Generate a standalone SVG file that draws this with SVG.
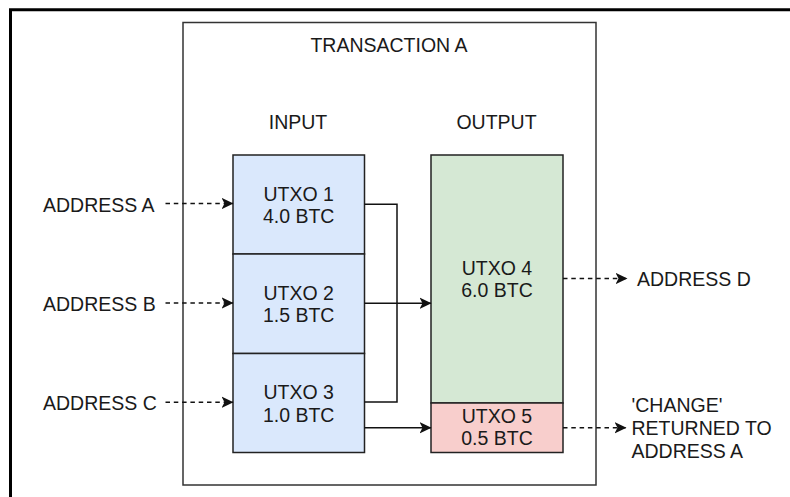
<svg xmlns="http://www.w3.org/2000/svg" width="790" height="497" viewBox="0 0 790 497">
  <style>
    text { font-family: "Liberation Sans", Arial, sans-serif; font-size: 19.5px; fill: #1a1a1a; }
    .c { text-anchor: middle; }
    .box { stroke: #222; stroke-width: 1.5; }
    .in { fill: #dae8fc; }
    .out { fill: #d5e8d4; }
    .chg { fill: #f8cecc; }
    .ln { fill: none; stroke: #111; stroke-width: 1.5; }
    .dash { stroke-dasharray: 4.5 3.8; }
  </style>
  <defs>
    <marker id="arr" viewBox="0 0 12 12" refX="11.5" refY="6" markerWidth="12" markerHeight="12" markerUnits="userSpaceOnUse" orient="auto">
      <path d="M0,0.3 L12,6 L0,11.7 L3,6 Z" fill="#111"/>
    </marker>
  </defs>
  <rect width="790" height="497" fill="#fff"/>
  <path id="frame" d="M10.5,497 V9.8 H790" fill="none" stroke="#000" stroke-width="3"/>

  <g id="transaction">
    <rect x="183" y="22.5" width="413" height="462.5" fill="#fff" stroke="#333" stroke-width="1.5"/>
    <text class="c" x="389" y="52">TRANSACTION A</text>
    <text class="c" x="298" y="129">INPUT</text>
    <text class="c" x="496.5" y="129">OUTPUT</text>
  </g>

  <g id="utxo1">
    <rect class="box in" x="233" y="155" width="131.5" height="99"/>
    <text class="c" x="298.7" y="200.7">UTXO 1</text>
    <text class="c" x="298.7" y="222.7">4.0 BTC</text>
  </g>
  <g id="utxo2">
    <rect class="box in" x="233" y="254" width="131.5" height="99.5"/>
    <text class="c" x="298.7" y="299.5">UTXO 2</text>
    <text class="c" x="298.7" y="321.7">1.5 BTC</text>
  </g>
  <g id="utxo3">
    <rect class="box in" x="233" y="353.5" width="131.5" height="99"/>
    <text class="c" x="298.7" y="398.5">UTXO 3</text>
    <text class="c" x="298.7" y="421.7">1.0 BTC</text>
  </g>
  <g id="utxo4">
    <rect class="box out" x="431" y="155" width="132" height="248"/>
    <text class="c" x="497" y="274.5">UTXO 4</text>
    <text class="c" x="497" y="296.7">6.0 BTC</text>
  </g>
  <g id="utxo5">
    <rect class="box chg" x="431" y="403" width="132" height="49.5"/>
    <text class="c" x="497" y="423.3">UTXO 5</text>
    <text class="c" x="497" y="445">0.5 BTC</text>
  </g>

  <g id="address-a"><text x="43" y="211.7">ADDRESS A</text></g>
  <g id="address-b"><text x="43" y="310.7">ADDRESS B</text></g>
  <g id="address-c"><text x="43" y="410">ADDRESS C</text></g>
  <g id="address-d"><text x="637" y="285.5">ADDRESS D</text></g>
  <g id="change">
    <text x="631.5" y="411.7">'CHANGE'</text>
    <text x="631.5" y="434.5">RETURNED TO</text>
    <text x="631.5" y="457.5">ADDRESS A</text>
  </g>

  <g id="connectors">
    <path class="ln dash" d="M165.5,203.5 H233" marker-end="url(#arr)"/>
    <path class="ln dash" d="M165.5,303 H233" marker-end="url(#arr)"/>
    <path class="ln dash" d="M165.5,402.3 H233" marker-end="url(#arr)"/>
    <path class="ln" d="M364.5,204.3 H397 V303"/>
    <path class="ln" d="M364.5,402 H397 V303"/>
    <path class="ln" d="M364.5,303.3 H431" marker-end="url(#arr)"/>
    <path class="ln" d="M364.5,427.8 H431" marker-end="url(#arr)"/>
    <path class="ln dash" d="M563,278.5 H627" marker-end="url(#arr)"/>
    <path class="ln dash" d="M563,427.8 H626" marker-end="url(#arr)"/>
  </g>
</svg>
